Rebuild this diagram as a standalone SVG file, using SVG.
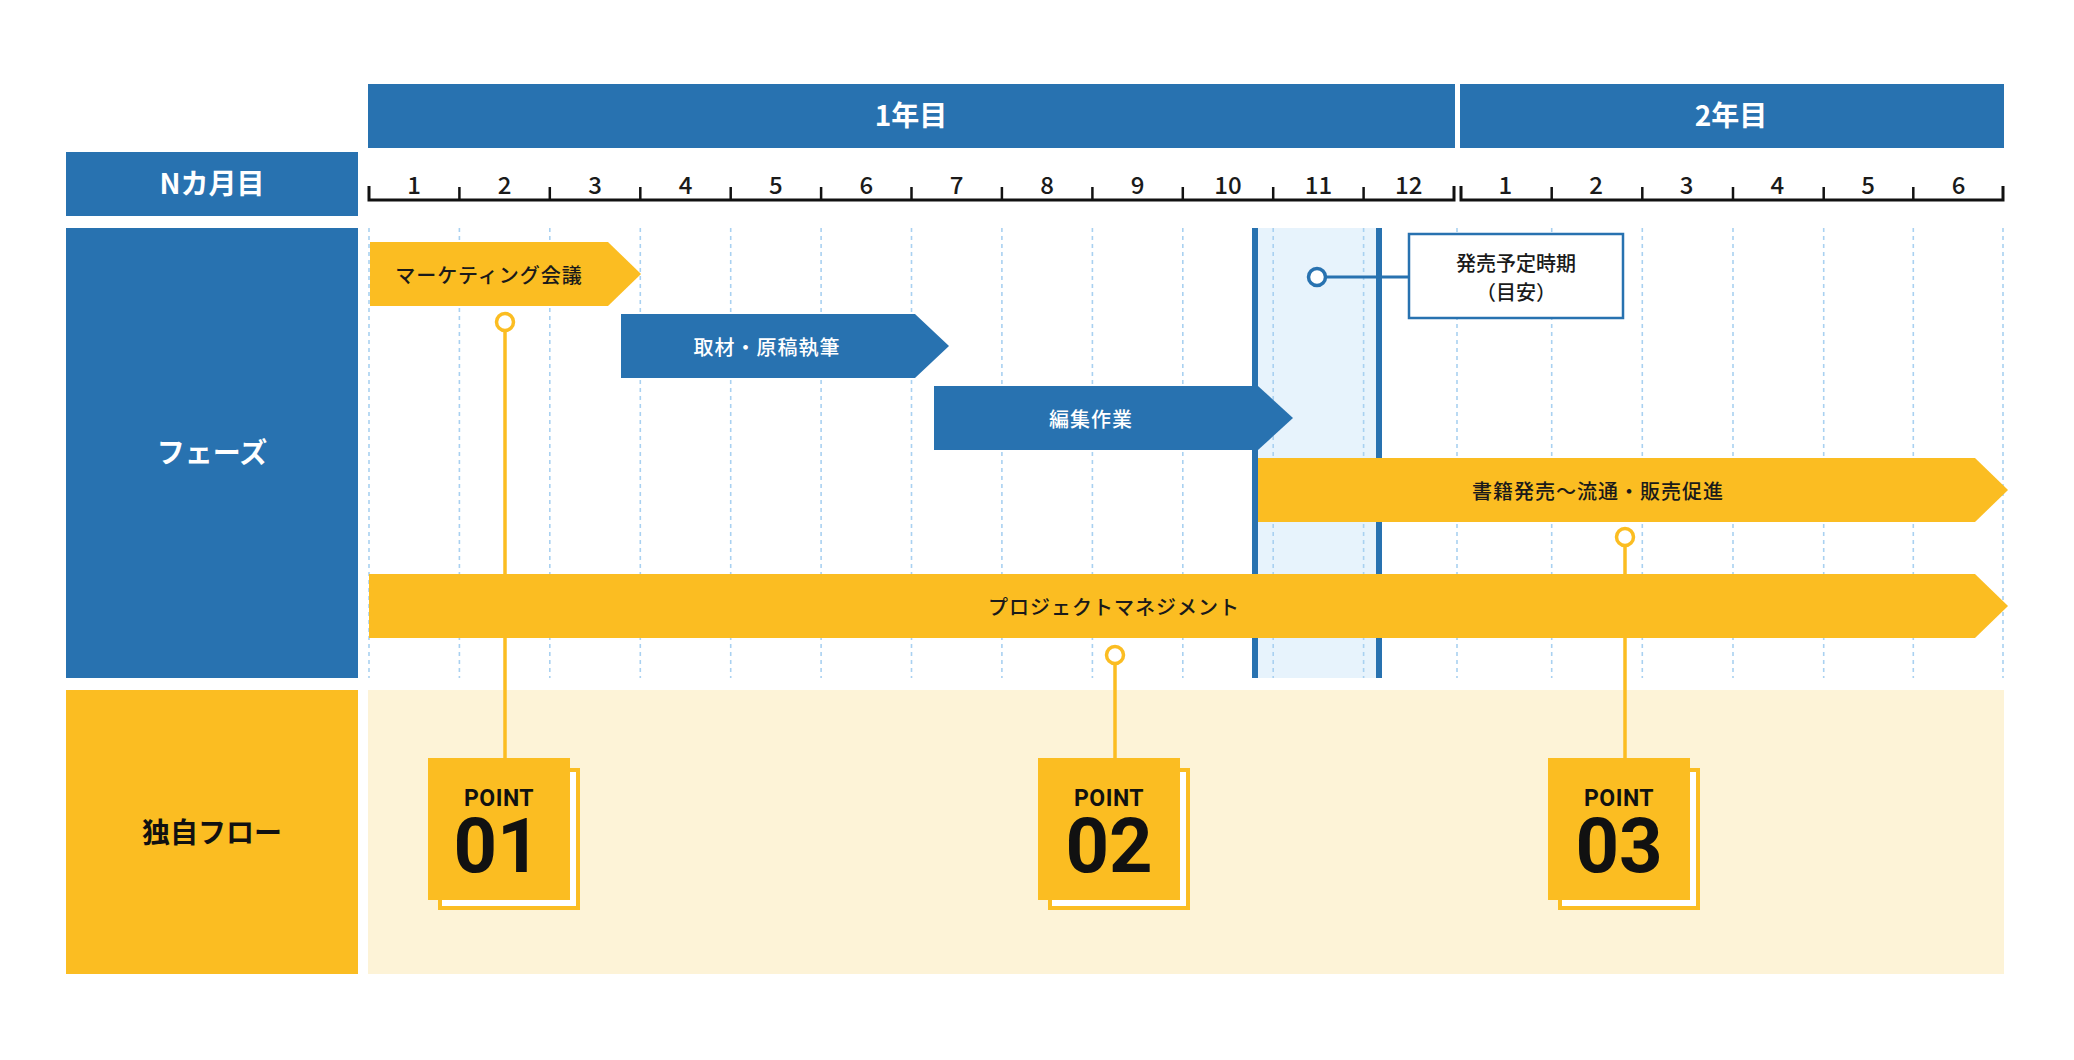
<svg xmlns="http://www.w3.org/2000/svg" width="2074" height="1060" viewBox="0 0 2074 1060">
<defs>
<style>
.blue{fill:#2872b0}
.yel{fill:#fbbd22}
.hdr{font-family:"Noto Sans CJK JP","Noto Sans",sans-serif;font-weight:700;font-size:28px;text-anchor:middle}
.mon{font-family:"Noto Sans CJK JP","Noto Sans",sans-serif;font-weight:500;font-size:24px;fill:#1a1a1a;text-anchor:middle}
.lbl{font-family:"Noto Sans CJK JP","Noto Sans",sans-serif;font-weight:500;font-size:20px;letter-spacing:1px;text-anchor:middle}
.grid{stroke:#a9d1f1;stroke-width:1.6;stroke-dasharray:4 4}
.axis{stroke:#111;stroke-width:3;fill:none}
.tick{stroke:#111;stroke-width:2.5}
.pline{stroke:#fbbd22;stroke-width:3.5;fill:none}
.pcirc{stroke:#fbbd22;stroke-width:3.5;fill:#fff}
.pt{font-family:Roboto,"Liberation Sans",sans-serif;font-weight:700;fill:#111;text-anchor:middle}
</style>
</defs>
<rect width="2074" height="1060" fill="#fff"/>

<g id="year1"><rect class="blue" x="368" y="84" width="1087" height="64"/><text class="hdr" x="911" y="126" fill="#fff">1年目</text></g>
<g id="year2"><rect class="blue" x="1460" y="84" width="544" height="64"/><text class="hdr" x="1731" y="126" fill="#fff">2年目</text></g>
<g id="label-month"><rect class="blue" x="66" y="152" width="292" height="64"/><text class="hdr" x="212" y="194" fill="#fff">Nカ月目</text></g>
<g id="label-phase"><rect class="blue" x="66" y="228" width="292" height="450"/><text class="hdr" x="212" y="463" fill="#fff">フェーズ</text></g>
<g id="label-flow"><rect class="yel" x="66" y="690" width="292" height="284"/><text class="hdr" x="212" y="843" fill="#111">独自フロー</text></g>
<rect id="flow-area" x="368" y="690" width="1636" height="284" fill="#fdf3d7"/>

<g id="axis">
<polyline class="axis" points="369,186 369,200 1454,200 1454,186"/>
<polyline class="axis" points="1461,186 1461,200 2003,200 2003,186"/>
<g class="tick">
<line x1="459.4" y1="187" x2="459.4" y2="200"/><line x1="549.8" y1="187" x2="549.8" y2="200"/><line x1="640.3" y1="187" x2="640.3" y2="200"/><line x1="730.7" y1="187" x2="730.7" y2="200"/><line x1="821.1" y1="187" x2="821.1" y2="200"/><line x1="911.5" y1="187" x2="911.5" y2="200"/><line x1="1001.9" y1="187" x2="1001.9" y2="200"/><line x1="1092.4" y1="187" x2="1092.4" y2="200"/><line x1="1182.8" y1="187" x2="1182.8" y2="200"/><line x1="1273.2" y1="187" x2="1273.2" y2="200"/><line x1="1363.6" y1="187" x2="1363.6" y2="200"/>
<line x1="1551.7" y1="187" x2="1551.7" y2="200"/><line x1="1642.3" y1="187" x2="1642.3" y2="200"/><line x1="1733" y1="187" x2="1733" y2="200"/><line x1="1823.7" y1="187" x2="1823.7" y2="200"/><line x1="1913.3" y1="187" x2="1913.3" y2="200"/>
</g>
<text class="mon" x="414" y="194">1</text><text class="mon" x="504.6" y="194">2</text><text class="mon" x="595" y="194">3</text><text class="mon" x="685.5" y="194">4</text><text class="mon" x="775.9" y="194">5</text><text class="mon" x="866.3" y="194">6</text><text class="mon" x="956.7" y="194">7</text><text class="mon" x="1047.1" y="194">8</text><text class="mon" x="1137.6" y="194">9</text><text class="mon" x="1228" y="194">10</text><text class="mon" x="1318.4" y="194">11</text><text class="mon" x="1408.8" y="194">12</text>
<text class="mon" x="1505.3" y="194">1</text><text class="mon" x="1596" y="194">2</text><text class="mon" x="1686.7" y="194">3</text><text class="mon" x="1777.3" y="194">4</text><text class="mon" x="1868" y="194">5</text><text class="mon" x="1958.7" y="194">6</text>
</g>

<rect id="release-window" x="1255" y="228" width="124" height="450" fill="#e7f3fc"/>

<g id="grid" class="grid">
<line x1="369" y1="228" x2="369" y2="678"/><line x1="459.4" y1="228" x2="459.4" y2="678"/><line x1="549.8" y1="228" x2="549.8" y2="678"/><line x1="640.3" y1="228" x2="640.3" y2="678"/><line x1="730.7" y1="228" x2="730.7" y2="678"/><line x1="821.1" y1="228" x2="821.1" y2="678"/><line x1="911.5" y1="228" x2="911.5" y2="678"/><line x1="1001.9" y1="228" x2="1001.9" y2="678"/><line x1="1092.4" y1="228" x2="1092.4" y2="678"/><line x1="1182.8" y1="228" x2="1182.8" y2="678"/><line x1="1273.2" y1="228" x2="1273.2" y2="678"/><line x1="1363.6" y1="228" x2="1363.6" y2="678"/><line x1="1457" y1="228" x2="1457" y2="678"/>
<line x1="1551.7" y1="228" x2="1551.7" y2="678"/><line x1="1642.3" y1="228" x2="1642.3" y2="678"/><line x1="1733" y1="228" x2="1733" y2="678"/><line x1="1823.7" y1="228" x2="1823.7" y2="678"/><line x1="1913.3" y1="228" x2="1913.3" y2="678"/><line x1="2003" y1="228" x2="2003" y2="678"/>
</g>

<g id="release-lines" stroke="#2872b0" stroke-width="6">
<line x1="1255" y1="228" x2="1255" y2="678"/><line x1="1379" y1="228" x2="1379" y2="678"/>
</g>

<g id="connectors">
<line class="pline" x1="505" y1="330" x2="505" y2="758"/>
<line class="pline" x1="1115" y1="664" x2="1115" y2="758"/>
<line class="pline" x1="1625" y1="546" x2="1625" y2="758"/>
<line x1="1326" y1="277" x2="1408" y2="277" stroke="#2872b0" stroke-width="3"/>
</g>

<g id="phase-marketing"><polygon class="yel" points="370,242 608,242 641,274 608,306 370,306"/><text class="lbl" x="489" y="283" fill="#1a1a1a">マーケティング会議</text></g>
<g id="phase-writing"><polygon class="blue" points="621,314 915,314 949,346 915,378 621,378"/><text class="lbl" x="767" y="355" fill="#fff">取材・原稿執筆</text></g>
<g id="phase-editing"><polygon class="blue" points="934,386 1258,386 1293,418 1258,450 934,450"/><text class="lbl" x="1091" y="427" fill="#fff">編集作業</text></g>
<g id="phase-release"><polygon class="yel" points="1258,458 1975,458 2008,490 1975,522 1258,522"/><text class="lbl" x="1598" y="499" fill="#1a1a1a">書籍発売〜流通・販売促進</text></g>
<g id="phase-pm"><polygon class="yel" points="369,574 1975,574 2008,606 1975,638 369,638"/><text class="lbl" x="1114" y="615" fill="#1a1a1a">プロジェクトマネジメント</text></g>

<g id="markers">
<circle class="pcirc" cx="505" cy="322" r="8.5"/>
<circle class="pcirc" cx="1115" cy="655" r="8.5"/>
<circle class="pcirc" cx="1625" cy="537" r="8.5"/>
<circle cx="1317" cy="277" r="8.5" fill="#fff" stroke="#2872b0" stroke-width="3.5"/>
</g>

<g id="release-callout">
<rect x="1409" y="234" width="214" height="84" fill="#fff" stroke="#2872b0" stroke-width="2.5"/>
<text class="lbl" x="1516" y="271" fill="#1a1a1a" style="letter-spacing:0">発売予定時期</text>
<text class="lbl" x="1516" y="300" fill="#1a1a1a" style="letter-spacing:0">（目安）</text>
</g>

<g id="point-01">
<rect x="440" y="770" width="138" height="138" fill="#fff" stroke="#fbbd22" stroke-width="4"/>
<rect class="yel" x="428" y="758" width="142" height="142"/>
<text class="pt" x="499" y="806" font-size="23" letter-spacing="0.5">POINT</text>
<text class="pt" x="497" y="872" font-size="76">01</text>
</g>
<g id="point-02">
<rect x="1050" y="770" width="138" height="138" fill="#fff" stroke="#fbbd22" stroke-width="4"/>
<rect class="yel" x="1038" y="758" width="142" height="142"/>
<text class="pt" x="1109" y="806" font-size="23" letter-spacing="0.5">POINT</text>
<text class="pt" x="1109" y="872" font-size="76">02</text>
</g>
<g id="point-03">
<rect x="1560" y="770" width="138" height="138" fill="#fff" stroke="#fbbd22" stroke-width="4"/>
<rect class="yel" x="1548" y="758" width="142" height="142"/>
<text class="pt" x="1619" y="806" font-size="23" letter-spacing="0.5">POINT</text>
<text class="pt" x="1619" y="872" font-size="76">03</text>
</g>
</svg>
